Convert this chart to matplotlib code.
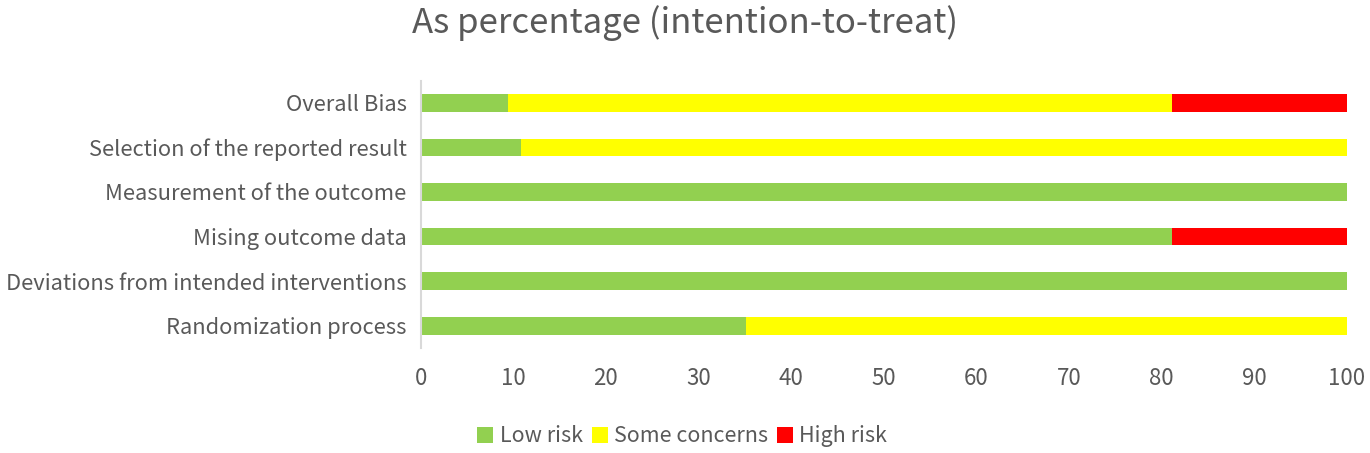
import matplotlib
matplotlib.use("Agg")
import matplotlib.pyplot as plt
import numpy as np

plt.rcParams['font.family'] = ['Noto Sans CJK SC', 'DejaVu Sans']
plt.rcParams['font.weight'] = 'light'

# categories from bottom to top
domains = ['Randomization process', 'Deviations from intended interventions',
           'Mising outcome data', 'Measurement of the outcome',
           'Selection of the reported result', 'Overall Bias']
low_risk = [35.1, 100, 81.1, 100, 10.8, 9.4]
some_concerns = [64.9, 0, 0, 0, 89.2, 71.7]
high_risk = [0, 0, 18.9, 0, 0, 18.9]

series_names = ['Low risk', 'Some concerns', 'High risk']
colors = ['#92D050', '#FFFF00', '#FF0000']
txt = '#595959'

fig = plt.figure(figsize=(13.7, 4.53), dpi=100)
ax = fig.add_axes([0.307, 0.232, 0.676, 0.59])

y = np.arange(len(domains))
left = np.zeros(len(domains))
for vals, name, c in zip([low_risk, some_concerns, high_risk], series_names, colors):
    ax.barh(y, vals, left=left, height=0.4, color=c, label=name)
    left += np.array(vals)

ax.set_xlim(0, 100)
ax.set_ylim(-0.5, 5.5)
ax.set_xticks(np.arange(0, 101, 10))
ax.set_yticks(y)
ax.set_yticklabels(domains)
ax.tick_params(axis='both', length=0, colors=txt)
ax.tick_params(axis='x', pad=14, labelsize=16)
ax.tick_params(axis='y', pad=10, labelsize=15.8)
for s in ['top', 'right', 'bottom']:
    ax.spines[s].set_visible(False)
ax.spines['left'].set_color('#D9D9D9')
ax.spines['left'].set_linewidth(1.5)

fig.text(0.5, 0.95, 'As percentage (intention-to-treat)', ha='center', va='center',
         fontsize=25, color=txt)

fig.legend(loc='center', bbox_to_anchor=(0.498, 0.037), ncol=3, frameon=False,
           fontsize=15.5, labelcolor=txt, handlelength=0.75, handleheight=0.75,
           handletextpad=0.3, columnspacing=0.4)

fig.savefig('out.png', dpi=100)
